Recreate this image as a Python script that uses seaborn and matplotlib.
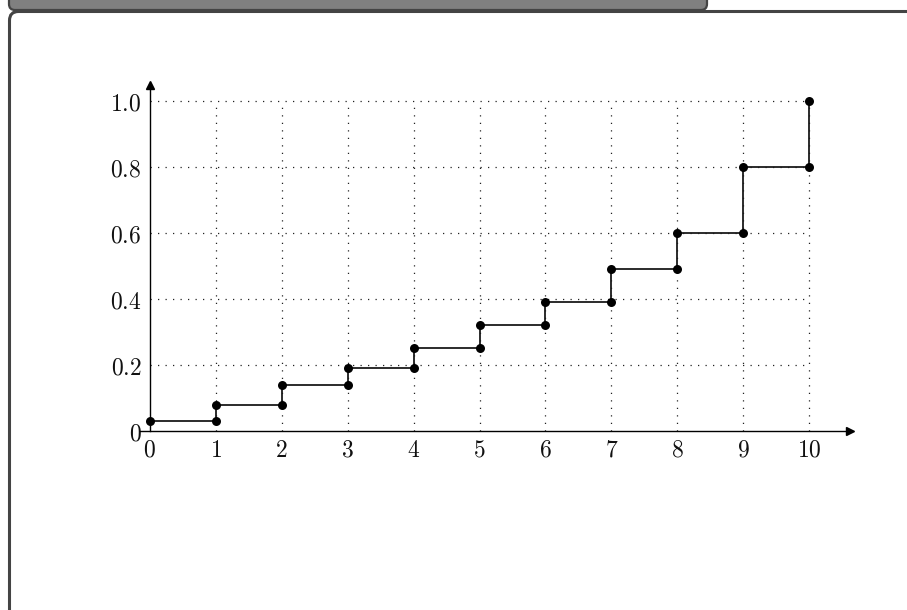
import matplotlib
matplotlib.use('Agg')
import matplotlib.pyplot as plt
import matplotlib.transforms as mtransforms
from matplotlib.patches import FancyBboxPatch
import seaborn as sns
import pandas as pd

# Données de la fonction de répartition
x_vals = [0, 1, 2, 3, 4, 5, 6, 7, 8, 9, 10]
y_vals = [0.03, 0.08, 0.14, 0.19, 0.25, 0.32, 0.39, 0.49, 0.60, 0.80, 1.0]
x_ticks = [0, 1, 2, 3, 4, 5, 6, 7, 8, 9, 10]
x_labels = ['0', '1', '2', '3', '4', '5', '6', '7', '8', '9', '10']
y_ticks = [0, 0.2, 0.4, 0.6, 0.8, 1.0]
y_labels = ['0', '0.2', '0.4', '0.6', '0.8', '1.0']

# Sommets de l'escalier : (x_i, y_{i-1}) puis (x_i, y_i)
sx, sy = [x_vals[0]], [y_vals[0]]
for i in range(1, len(x_vals)):
    sx += [x_vals[i], x_vals[i]]
    sy += [y_vals[i - 1], y_vals[i]]
steps = pd.DataFrame({'x': sx, 'y': sy})

sns.set_style('white')
plt.rcParams['mathtext.fontset'] = 'cm'

W, H = 907, 610
fig = plt.figure(figsize=(W / 100, H / 100), dpi=100)

# Cadre arrondi et barre grise en haut (coordonnées en pixels)
ident = mtransforms.IdentityTransform()
frame = FancyBboxPatch((9.5, -50), 960, H - 11.5 + 50,
                       boxstyle='round,pad=0,rounding_size=9',
                       facecolor='none', edgecolor='#444444', lw=2.2,
                       transform=ident, zorder=0)
fig.add_artist(frame)
bar = FancyBboxPatch((9, H - 10), 698, 30,
                     boxstyle='round,pad=0,rounding_size=6',
                     facecolor='#808080', edgecolor='#444444', lw=1.6,
                     transform=ident, zorder=0)
fig.add_artist(bar)

# Axes placés à la main
ax = fig.add_axes([140 / W, (H - 437.6) / H, 710 / W, (437.6 - 85) / H])
ax.set_facecolor('none')
ax.set_xlim(-0.15, 10.62)
ax.set_ylim(-0.02, 1.048)

# Grille pointillée sur [0,10] x [0,1]
dots = (0, (1, 5))
ax.vlines(x_ticks[1:], 0, 1, colors='#222222', linestyles=dots, lw=0.9, zorder=1)
ax.hlines(y_ticks[1:], 0, 10, colors='#222222', linestyles=dots, lw=0.9, zorder=1)

# Courbe en escalier + points
sns.lineplot(data=steps, x='x', y='y', sort=False, estimator=None,
             color='#1a1a1a', lw=1.3, ax=ax, zorder=3)
sns.scatterplot(data=steps, x='x', y='y', s=42, color='black',
                linewidth=0, ax=ax, zorder=4)

# Axes avec flèches
for side in ['top', 'right']:
    ax.spines[side].set_visible(False)
ax.spines['left'].set_position(('data', 0))
ax.spines['bottom'].set_position(('data', 0))
ax.spines['left'].set_bounds(0, 1.04)
for side in ['left', 'bottom']:
    ax.spines[side].set_color('black')
    ax.spines[side].set_linewidth(1.0)
ax.plot(1, 0, marker='>', color='black', ms=6,
        transform=ax.get_yaxis_transform(), clip_on=False)
ax.plot(0, 1, marker='^', color='black', ms=6,
        transform=ax.get_xaxis_transform(), clip_on=False)

ax.set_xticks(x_ticks)
ax.set_xticklabels(['$' + t + '$' for t in x_labels])
ax.set_yticks(y_ticks)
ax.set_yticklabels(['$' + t + '$' for t in y_labels])
ax.tick_params(direction='inout', length=10, width=1.0, color='black',
               labelsize=17, labelcolor='#111111')
ax.tick_params(axis='x', pad=0)
ax.tick_params(axis='y', pad=1)
ax.set_xlabel('')
ax.set_ylabel('')

fig.savefig('out.png', dpi=100)
